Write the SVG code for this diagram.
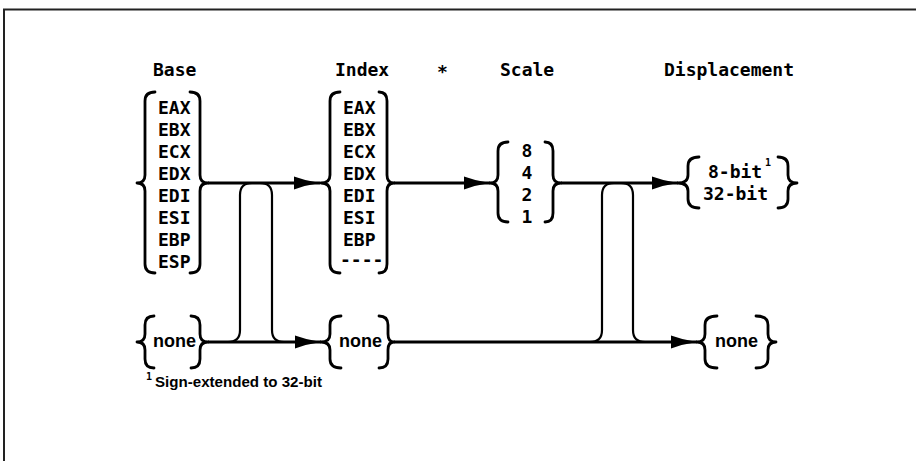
<svg xmlns="http://www.w3.org/2000/svg" width="916" height="461" viewBox="0 0 916 461">
<style>
.bg{fill:#fff}
.frame{fill:none;stroke:#222;stroke-width:2}
.brace{fill:none;stroke:#000;stroke-width:2.8;stroke-linecap:round;stroke-linejoin:round}
.line{fill:none;stroke:#000;stroke-width:3}
.loop{fill:none;stroke:#000;stroke-width:2.2}
.mono{font-family:"DejaVu Sans Mono","Liberation Mono",monospace;font-weight:bold;font-size:18px;fill:#000}
.sans{font-family:"Liberation Sans","DejaVu Sans",sans-serif;font-weight:bold;font-size:18px;fill:#000}
.foot{font-family:"Liberation Sans","DejaVu Sans",sans-serif;font-weight:bold;font-size:15.5px;fill:#000}
.sup{font-family:"DejaVu Sans Mono","Liberation Mono",monospace;font-weight:bold;font-size:10px;fill:#000}
</style>
<defs>
<marker id="arr" markerUnits="userSpaceOnUse" viewBox="0 0 26 14" refX="26" refY="7" markerWidth="26" markerHeight="14" orient="auto">
<path d="M0,0.5 Q12,5 26,7 Q12,9 0,13.5 Z" fill="#000"/>
</marker>
</defs>
<rect class="bg" x="0" y="0" width="916" height="461"/>
<path class="frame" d="M4,461 L4,9.5 L916,9.5"/>

<g id="headers">
<text class="mono" x="153" y="76">Base</text>
<text class="mono" x="335" y="76">Index</text>
<text class="mono" x="437" y="78">*</text>
<text class="mono" x="500" y="76">Scale</text>
<text class="mono" x="664" y="76">Displacement</text>
</g>

<g id="base-regs">
<path class="brace" d="M155,92 Q145,92 145,101 L145,175 Q145,183 137,183 Q145,183 145,191 L145,264 Q145,273 155,273"/>
<path class="brace" d="M190,92 Q200,92 200,101 L200,175 Q200,183 208,183 Q200,183 200,191 L200,264 Q200,273 190,273"/>
<text class="mono" x="158" y="114">EAX</text>
<text class="mono" x="158" y="136">EBX</text>
<text class="mono" x="158" y="158">ECX</text>
<text class="mono" x="158" y="180">EDX</text>
<text class="mono" x="158" y="202">EDI</text>
<text class="mono" x="158" y="224">ESI</text>
<text class="mono" x="158" y="246">EBP</text>
<text class="mono" x="158" y="268">ESP</text>
</g>

<g id="index-regs">
<path class="brace" d="M340,92 Q330,92 330,101 L330,175 Q330,183 321,183 Q330,183 330,191 L330,264 Q330,273 340,273"/>
<path class="brace" d="M379,92 Q387,92 387,101 L387,175 Q387,183 394,183 Q387,183 387,191 L387,264 Q387,273 379,273"/>
<text class="mono" x="343" y="114">EAX</text>
<text class="mono" x="343" y="136">EBX</text>
<text class="mono" x="343" y="158">ECX</text>
<text class="mono" x="343" y="180">EDX</text>
<text class="mono" x="343" y="202">EDI</text>
<text class="mono" x="343" y="224">ESI</text>
<text class="mono" x="343" y="246">EBP</text>
<text class="mono" x="340" y="266">----</text>
</g>

<g id="scale">
<path class="brace" d="M508,142 Q498,142 498,151 L498,175 Q498,183 490,183 Q498,183 498,191 L498,213 Q498,222 508,222"/>
<path class="brace" d="M545,142 Q553,142 553,151 L553,175 Q553,183 561,183 Q553,183 553,191 L553,213 Q553,222 545,222"/>
<text class="mono" x="527" y="157" text-anchor="middle">8</text>
<text class="mono" x="527" y="179" text-anchor="middle">4</text>
<text class="mono" x="527" y="201" text-anchor="middle">2</text>
<text class="mono" x="527" y="223" text-anchor="middle">1</text>
</g>

<g id="displacement">
<path class="brace" d="M699,157 Q688,157 688,166 L688,175 Q688,183 678,183 Q688,183 688,191 L688,199 Q688,208 699,208"/>
<path class="brace" d="M778,157 Q788,157 788,166 L788,175 Q788,183 797,183 Q788,183 788,191 L788,199 Q788,208 778,208"/>
<text class="mono" x="708" y="178">8-bit</text>
<text class="sup" x="765" y="166">1</text>
<text class="mono" x="703" y="200">32-bit</text>
</g>

<g id="base-none">
<path class="brace" d="M154,316 Q145,316 145,325 L145,334 Q145,342 137,342 Q145,342 145,350 L145,359 Q145,368 154,368"/>
<path class="brace" d="M191,316 Q200,316 200,325 L200,334 Q200,342 208,342 Q200,342 200,350 L200,359 Q200,368 191,368"/>
<text class="sans" x="153" y="347">none</text>
</g>

<g id="index-none">
<path class="brace" d="M341,316 Q330,316 330,325 L330,334 Q330,342 321,342 Q330,342 330,350 L330,359 Q330,368 341,368"/>
<path class="brace" d="M379,316 Q388,316 388,325 L388,334 Q388,342 394,342 Q388,342 388,350 L388,359 Q388,368 379,368"/>
<text class="sans" x="339" y="347">none</text>
</g>

<g id="disp-none">
<path class="brace" d="M717,316 Q705,316 705,325 L705,334 Q705,342 697,342 Q705,342 705,350 L705,359 Q705,368 717,368"/>
<path class="brace" d="M756,316 Q768,316 768,325 L768,334 Q768,342 776,342 Q768,342 768,350 L768,359 Q768,368 756,368"/>
<text class="sans" x="715" y="347">none</text>
</g>

<g id="connectors">
<path class="line" d="M208,183 L320,183" marker-end="url(#arr)"/>
<path class="line" d="M394,183 L490,183" marker-end="url(#arr)"/>
<path class="line" d="M561,183 L678,183" marker-end="url(#arr)"/>
<path class="line" d="M208,342 L321,342" marker-end="url(#arr)"/>
<path class="line" d="M394,342 L697,342" marker-end="url(#arr)"/>
<path class="loop" d="M228,342 Q240,342 240,330 L240,195 Q240,183 252,183"/>
<path class="loop" d="M260,183 Q272,183 272,195 L272,330 Q272,342 284,342"/>
<path class="loop" d="M590,342 Q602,342 602,330 L602,195 Q602,183 614,183"/>
<path class="loop" d="M621,183 Q633,183 633,195 L633,330 Q633,342 645,342"/>
</g>

<g id="footnote">
<text class="sup" x="146" y="380">1</text>
<text class="foot" x="155" y="387" textLength="167" lengthAdjust="spacingAndGlyphs">Sign-extended to 32-bit</text>
</g>
</svg>
